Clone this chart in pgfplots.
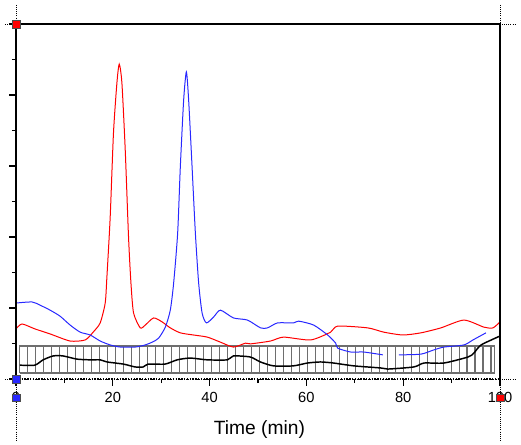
\documentclass[border=0pt]{standalone}
\usepackage{pgfplots}
\pgfplotsset{compat=1.18}
\usepackage{fontspec}
\setmainfont{Liberation Sans}
\definecolor{cred}{RGB}{255,0,0}
\definecolor{cblue}{RGB}{40,40,255}
\definecolor{boxgray}{RGB}{110,110,110}
\begin{document}
\begin{tikzpicture}
\begin{axis}[
  set layers,
  scale only axis,
  width=363pt, height=266.25pt,
  xmin=0, xmax=100, ymin=0, ymax=100,
  clip=false,
  axis line style={draw=none},
  tick align=outside,
  xtick={0,20,40,60,80,100},
  minor xtick={10,30,50,70,90},
  ytick={0,20,40,60,80,100},
  minor ytick={10,30,50,70,90},
  yticklabels={},
  xtick pos=bottom, ytick pos=left,
  major tick length=5pt, minor tick length=3pt,
  tick style={draw=black, line width=0.9pt},
  /pgf/number format/assume math mode=true,
  xticklabel style={font=\fontsize{11}{13}\selectfont, anchor=center, yshift=-9pt},
  xlabel={Time (min)},
  xlabel style={font=\fontsize{14.4}{16}\selectfont, anchor=center, at={(axis description cs:0.503,0)}, yshift=-38pt},
]
% hatched box
\addplot[boxgray, line width=0.9pt, forget plot] coordinates {(0.8,1.7) (98.8,1.7) (98.8,9.3) (0.8,9.3) (0.8,1.7)};
\addplot[draw=none, mark=none, forget plot,
  error bars/.cd, y dir=plus, y fixed=7.6,
  error bar style={draw=boxgray, line width=0.9pt}, error mark=none]
coordinates {
(0.80,1.7) (2.45,1.7) (4.10,1.7) (5.75,1.7) (7.40,1.7) (9.05,1.7) (10.70,1.7) (12.35,1.7) (14.00,1.7) (15.65,1.7)
(17.30,1.7) (18.95,1.7) (20.60,1.7) (22.25,1.7) (23.90,1.7) (25.55,1.7) (27.20,1.7) (28.85,1.7) (30.50,1.7) (32.15,1.7)
(33.80,1.7) (35.45,1.7) (37.10,1.7) (38.75,1.7) (40.40,1.7) (42.05,1.7) (43.70,1.7) (45.35,1.7) (47.00,1.7) (48.65,1.7)
(50.30,1.7) (51.95,1.7) (53.60,1.7) (55.25,1.7) (56.90,1.7) (58.55,1.7) (60.20,1.7) (61.85,1.7) (63.50,1.7) (65.15,1.7)
(66.80,1.7) (68.45,1.7) (70.10,1.7) (71.75,1.7) (73.40,1.7) (75.05,1.7) (76.70,1.7) (78.35,1.7) (80.00,1.7) (81.65,1.7)
(83.30,1.7) (84.95,1.7) (86.60,1.7) (88.25,1.7) (89.90,1.7) (91.55,1.7) (93.20,1.7) (94.85,1.7) (96.50,1.7) (98.15,1.7)
};
% black trace
\addplot[black, line width=1.1pt, smooth, tension=0.4] coordinates {
(0.8,3.9) (3.9,3.9) (5.6,5.4) (7.7,6.5) (9.7,6.5) (12.6,5.6) (15.3,5.4) (17.4,5.4) (18.8,4.8)
(22.2,4.2) (24.6,3.4) (26.3,3.4) (27.3,4.2) (30.8,4.2) (33.3,5.4) (36.0,5.9) (39.5,5.4) (43.7,5.4)
(44.9,6.5) (48.4,6.2) (50.5,4.8) (53.2,3.7) (57.3,3.7) (60.2,4.5) (62.9,4.8) (65.6,4.5) (69.8,3.7)
(75.4,3.1) (76.8,2.8) (82.2,3.4) (84.3,4.5) (88.4,4.5) (93.4,6.2) (94.6,7.3) (96.1,9.6) (100,12.1)
};
% red trace
\addplot[cred, line width=0.75pt, smooth, tension=0.4] coordinates {
(0,14.1) (1.24,15.5) (3.93,14.1) (7.04,12.7) (11.18,10.7) (14.29,11.0) (15.94,13.2) (17.39,15.8)
(18.43,21.4) (18.78,28.7) (19.46,45.6) (20.14,69.3) (20.85,83.4) (21.33,88.7) (21.88,83.4)
(22.57,64.5) (23.25,40.0) (23.75,27.0) (24.29,18.6) (25.67,14.4) (26.71,15.2) (28.43,17.2)
(30.17,16.1) (31.88,14.4) (33.95,13.0) (36.65,12.4) (39.54,11.8) (42.2,10.4) (44.93,9.0)
(47.41,10.1) (48.45,9.9) (52.59,10.7) (55.28,11.8) (60.87,11.0) (65.0,13.2) (66.46,14.9)
(72.67,14.4) (75.98,13.2) (79.92,12.4) (83.64,13.0) (87.78,14.4) (92.55,16.6) (96.69,14.6)
(98.55,14.4) (100,16.1)
};
% blue trace
\addplot[cblue, line width=0.75pt, smooth, tension=0.4] coordinates {
(0,21.4) (3.31,21.7) (4.97,20.8) (7.04,19.4) (9.1,17.7) (11.18,15.2) (13.25,13.2) (15.32,12.4)
(17.39,10.7) (19.46,9.6) (21.53,9.0) (24.64,9.0) (26.71,9.6) (28.16,10.4) (29.46,11.5) (30.85,14.6)
(31.88,19.4) (32.57,27.0) (33.4,41.1) (33.95,59.7) (34.64,78.6) (35.2,86.5) (35.67,78.6)
(36.38,59.7) (37.06,41.1) (37.74,27.0) (38.45,18.6) (39.34,15.8) (40.85,17.5) (42.24,19.4)
(44.93,17.2) (47.83,16.6) (50.52,14.4) (51.97,14.4) (54.04,15.8) (57.35,15.8) (58.39,16.3)
(61.49,15.2) (64.39,12.4) (66.05,10.1) (66.46,8.7) (69.15,7.6) (71.84,7.6) (75.78,6.8)
};
\addplot[cblue, line width=0.75pt, smooth, tension=0.4] coordinates {
(79.09,6.8) (83.64,7.0) (86.34,8.2) (88.41,9.0) (92.55,9.6) (94.41,11.0) (97.1,13.0)
};
% frame
\addplot[black, line width=1.1pt] coordinates {(0,0) (0,100) (100,100) (100,0)};
\addplot[black, line width=1.1pt, densely dotted] coordinates {(0,0) (100,0)};
% cursor guides
\addplot[black, line width=0.6pt, densely dotted] coordinates {(0,105.4) (0,-17.2)};
\addplot[black, line width=0.6pt, densely dotted] coordinates {(100,105.4) (100,-17.2)};
\addplot[black, line width=0.6pt, densely dotted] coordinates {(-2.3,100) (103.3,100)};
\addplot[black, line width=0.6pt, densely dotted] coordinates {(-2.3,0) (103.3,0)};
% cursor markers
\addplot[on layer=axis foreground, only marks, mark=square*, mark size=2.9pt, mark options={fill=cred, draw=black!70, line width=0.4pt}] coordinates {(0,100) (100,-5.3)};
\addplot[on layer=axis foreground, only marks, mark=square*, mark size=2.9pt, mark options={fill=cblue, draw=black!70, line width=0.4pt}] coordinates {(0,0) (0,-5.3)};
\path (rel axis cs:0,0) ++(-12pt,-48.75pt) coordinate (bbsw);
\end{axis}
\useasboundingbox (bbsw) rectangle ++(390.75pt,333pt);
\end{tikzpicture}
\end{document}
